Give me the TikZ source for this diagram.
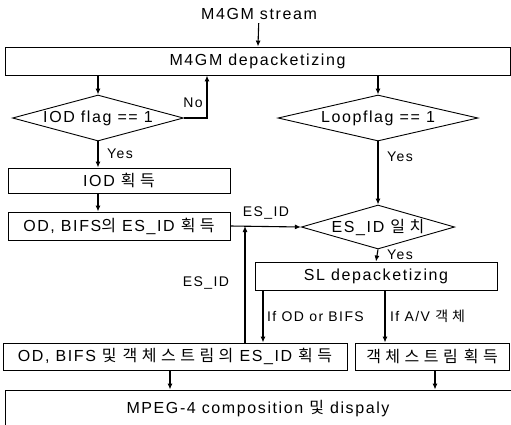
\documentclass[tikz,border=0pt]{standalone}
\usepackage{fontspec}
\setmainfont[LetterSpace=10]{Liberation Sans}
\newfontfamily\krfont[LetterSpace=28]{Noto Sans CJK KR}
\newcommand{\K}[1]{{\krfont #1}}
\usetikzlibrary{shapes.geometric,arrows.meta}
\begin{document}
\begin{tikzpicture}[x=1pt,y=-1pt,
  every node/.style={font=\fontsize{16}{18}\selectfont},
  box/.style={draw,line width=0.9pt,inner sep=0pt,anchor=center},
  dia/.style={draw,diamond,line width=0.9pt,inner sep=0pt,aspect=3.7},
  arr/.style={line width=1.1pt,-{Latex[length=6pt,width=5pt]}},
  lbl/.style={inner sep=1pt,font=\fontsize{14}{16}\selectfont}]
\useasboundingbox (0,0) rectangle (511,424);
\node (stream) at (259,14) {M4GM stream};
\node[box,minimum width=505pt,minimum height=28pt] (dep) at (257.5,61) {M4GM depacketizing};
\node[dia,minimum width=171pt,minimum height=46pt] (iod) at (98,118) {IOD flag == 1};
\node[dia,minimum width=200pt,minimum height=46pt] (loop) at (378,118) {Loopflag == 1};
\node[box,minimum width=222pt,minimum height=25pt] (iodbox) at (119,180.5) {IOD \K{획득}};
\node[box,minimum width=222pt,minimum height=28pt] (odbox) at (119,226) {OD, BIFS\K{의} ES\_ID \K{획득}};
\node[dia,minimum width=137pt,minimum height=44pt] (esid) at (378,227) {ES\_ID \K{일치}};
\node[box,minimum width=242pt,minimum height=28pt] (sl) at (376,276) {SL depacketizing};
\node[box,minimum width=344pt,minimum height=27pt] (allbox) at (175,356.5) {OD, BIFS \K{및} \K{객체스트림의} ES\_ID \K{획득}};
\node[box,minimum width=154pt,minimum height=27pt] (objbox) at (432,356.5) {\K{객체스트림} \K{획득}};
\node[box,minimum width=506pt,minimum height=38pt] (mpeg) at (258,409) {\raisebox{5pt}{MPEG-4 composition \K{및} dispaly}};
\coordinate (noX) at (207,0);
\coordinate (jx) at (245,0);
\coordinate (ax) at (263,0);
\coordinate (bx) at (385,0);
\coordinate (cx) at (170,0);
\coordinate (dx) at (435,0);
\draw[arr] (stream) -- (dep);
\draw[arr] (dep.south -| iod) -- (iod.north);
\draw[arr] (dep.south -| loop) -- (loop.north);
\draw[arr] (iod.east) -| (noX |- dep.south);
\node[lbl] (nolbl) at (193,103) {No};
\draw[arr] (iod.south) -- (iod.south |- iodbox.north);
\node[lbl] (y1) at (120,154) {Yes};
\draw[arr] (iodbox.south -| iod) -- (odbox.north -| iod);
\draw[arr] (loop.south) -- (esid.north);
\node[lbl] (y2) at (400,157) {Yes};
\draw[arr] (odbox.east) -- (esid.west);
\node[lbl] (e1) at (266,213) {ES\_ID};
\draw[arr] (allbox.north -| jx) -- (odbox.east -| jx);
\node[lbl] (e2) at (206,283) {ES\_ID};
\draw[arr] (esid.south) -- (sl.north);
\node[lbl] (y3) at (400,255) {Yes};
\draw[arr] (sl.south -| ax) -- (allbox.north -| ax);
\node[lbl,anchor=west] (l1) at (266,316) {If OD or BIFS};
\draw[arr] (sl.south -| bx) -- (objbox.north -| bx);
\node[lbl,anchor=west] (l2) at (389,316) {If A/V \K{객체}};
\draw[arr] (allbox.south -| cx) -- (mpeg.north -| cx);
\draw[arr] (objbox.south -| dx) -- (mpeg.north -| dx);
\end{tikzpicture}
\end{document}
